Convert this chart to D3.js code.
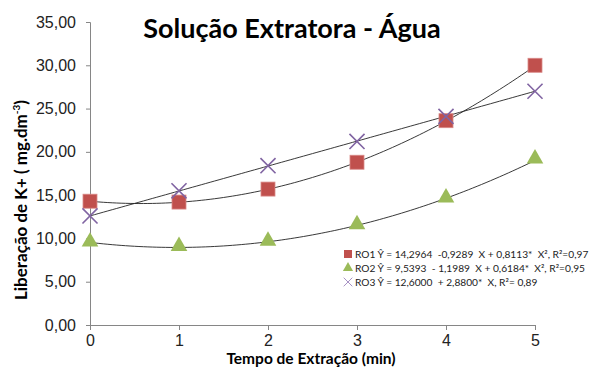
<!DOCTYPE html>
<html>
<head>
    <meta charset="utf-8">
    <style>
        body { margin: 0; background: #fff; }
        svg { font-family: Lato, 'Open Sans', sans-serif; }
    </style>
</head>
<body>
<svg width="594" height="367"></svg>
<script src="https://d3js.org/d3.v7.min.js"></script>
<script>
    // values
    let tempos = [0, 1, 2, 3, 4, 5];
    let ro1 = [14.3, 14.2, 15.7, 18.8, 23.6, 30.0];
    let ro2 = [9.5, 9.0, 9.6, 11.5, 14.6, 19.1];
    let ro3 = [12.6, 15.5, 18.4, 21.2, 24.1, 27.0];

    // trend line coefficients (c0 + c1 x + c2 x^2), from the legend
    let coefRO1 = [14.2964, -0.9289, 0.8113];
    let coefRO2 = [9.5393, -1.1989, 0.6184];
    let coefRO3 = [12.6000, 2.8800, 0];

    let yTicks = [0, 5, 10, 15, 20, 25, 30, 35];
    let legendLabels = [
        "RO1 Ŷ = 14,2964  -0,9289  X + 0,8113*  X², R²=0,97",
        "RO2 Ŷ = 9,5393  - 1,1989  X + 0,6184*  X², R²=0,95",
        "RO3 Ŷ = 12,6000  + 2,8800*  X, R²= 0,89"
    ];

    let svg = d3.select("svg");

    let x = d3.scaleLinear().domain([0, 5]).range([90, 535]);
    let y = d3.scaleLinear().domain([0, 35]).range([325, 22]);

    let axisColor = "#868686";

    // y axis
    let yAxis = svg.append("g")
        .attr("transform", "translate(90,0)")
        .call(d3.axisLeft(y).tickValues(yTicks).tickSize(4).tickPadding(10)
            .tickFormat(d => d3.format(".2f")(d).replace(".", ",")));
    yAxis.selectAll("line, path").attr("stroke", axisColor);
    yAxis.selectAll("text").attr("font-size", 16).attr("fill", "#222");

    // x axis
    let xAxis = svg.append("g")
        .attr("transform", "translate(0,325)")
        .call(d3.axisBottom(x).tickValues(tempos).tickSize(5).tickPadding(5).tickSizeOuter(0)
            .tickFormat(d3.format("d")));
    xAxis.selectAll("line, path").attr("stroke", axisColor);
    xAxis.selectAll("text").attr("font-size", 16).attr("fill", "#222");

    // titles
    svg.append("text")
        .attr("x", 292).attr("y", 38)
        .attr("text-anchor", "middle")
        .attr("font-size", 27).attr("font-weight", "bold")
        .text("Solução Extratora - Água");

    svg.append("text")
        .attr("x", 311).attr("y", 364)
        .attr("text-anchor", "middle")
        .attr("font-size", 15.5).attr("font-weight", "bold")
        .text("Tempo de Extração (min)");

    svg.append("text")
        .attr("transform", "translate(27,200) rotate(-90)")
        .attr("text-anchor", "middle")
        .attr("font-size", 17).attr("font-weight", "bold")
        .html("Liberação de K+ ( mg.dm<tspan font-size='10' dy='-7'>-3</tspan><tspan dy='7'>)</tspan>");

    // trend lines
    let xs = d3.range(0, 5.001, 0.05);
    let line = d3.line().x(d => x(d[0])).y(d => y(d[1]));
    [coefRO1, coefRO2, coefRO3].forEach(c => {
        svg.append("path")
            .datum(xs.map(t => [t, c[0] + c[1] * t + c[2] * t * t]))
            .attr("d", line)
            .attr("fill", "none")
            .attr("stroke", "#222")
            .attr("stroke-width", 0.9);
    });

    // markers
    let red = "#C0504D", green = "#9BBB59", purple = "#8064A2";

    svg.selectAll(".ro1")
        .data(tempos)
        .join("rect")
        .attr("x", (d, i) => x(d) - 7)
        .attr("y", (d, i) => y(ro1[i]) - 7)
        .attr("width", 14).attr("height", 14)
        .attr("fill", red).attr("stroke", "#d98a88").attr("stroke-width", 0.8);

    let tri = d3.symbol().type(d3.symbolTriangle).size(120);
    svg.selectAll(".ro2")
        .data(tempos)
        .join("path")
        .attr("d", tri)
        .attr("transform", (d, i) => `translate(${x(d)},${y(ro2[i]) - 1})`)
        .attr("fill", green);

    svg.selectAll(".ro3")
        .data(tempos)
        .join("path")
        .attr("d", d3.symbol().type(d3.symbolX).size(150))
        .attr("transform", (d, i) => `translate(${x(d)},${y(ro3[i])})`)
        .attr("fill", "none")
        .attr("stroke", purple)
        .attr("stroke-width", 1.6);

    // legend
    let legY = [254, 268, 282];
    let leg = svg.append("g");
    leg.append("rect").attr("x", 344).attr("y", legY[0] - 4).attr("width", 8).attr("height", 8).attr("fill", red);
    leg.append("path").attr("d", d3.symbol().type(d3.symbolTriangle).size(45))
        .attr("transform", `translate(348,${legY[1]})`).attr("fill", green);
    leg.append("path").attr("d", d3.symbol().type(d3.symbolX).size(50))
        .attr("transform", `translate(348,${legY[2]})`)
        .attr("fill", "none").attr("stroke", "#a792c4").attr("stroke-width", 1);

    leg.selectAll("text")
        .data(legendLabels)
        .join("text")
        .attr("x", 355)
        .attr("y", (d, i) => legY[i] + 3.5)
        .attr("font-size", 10.2)
        .attr("fill", "#222")
        .attr("xml:space", "preserve")
        .text(d => d);
</script>
</body>
</html>
